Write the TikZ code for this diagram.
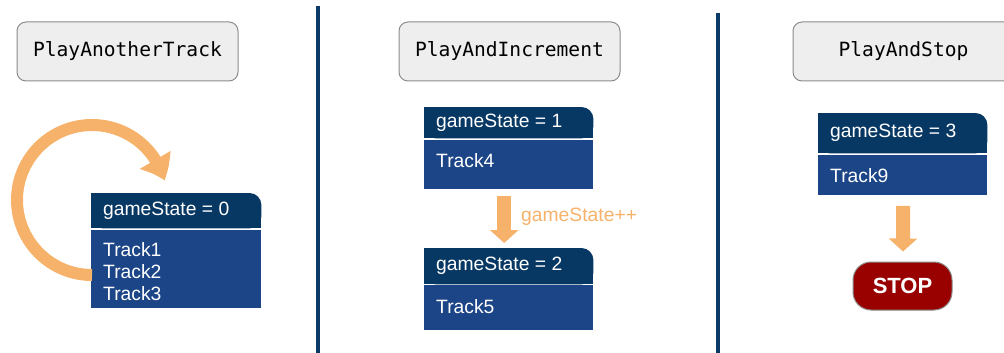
\documentclass[tikz,border=0pt]{standalone}
\usepackage{fontspec}
\setmainfont{Liberation Sans}
\newfontfamily\monof{DejaVu Sans Mono}
\usetikzlibrary{arrows.meta,bending}
\definecolor{hdr}{HTML}{073763}
\definecolor{bodyc}{HTML}{1C4587}
\definecolor{divc}{HTML}{0B3A66}
\definecolor{orng}{HTML}{F6B26B}
\definecolor{titlefill}{HTML}{EEEEEE}
\definecolor{titleline}{HTML}{8C8C8C}
\definecolor{stopred}{HTML}{990000}
\newcommand{\hdrfill}[1]{%
  \fill[hdr, rounded corners=12pt] (#1.south west) rectangle (#1.north east);
  \fill[hdr] (#1.south west) rectangle ([xshift=-14pt]#1.north east);
  \fill[hdr] (#1.south east) rectangle ([xshift=-14pt,yshift=14pt]#1.south east);}
\begin{document}
\begin{tikzpicture}[x=1pt,y=-1pt,
  titlebox/.style={draw=titleline, line width=1pt, fill=titlefill, rounded corners=9pt,
    minimum width=221pt, minimum height=59pt, inner sep=0pt,
    font=\monof\fontsize{19.6}{22}\selectfont},
  hdrbox/.style={inner sep=0pt, anchor=north west},
  bodybox/.style={fill=bodyc, inner sep=0pt, anchor=north west},
  txt/.style={text=white, inner sep=0pt, anchor=west, align=left,
    font=\fontsize{19.3}{22}\selectfont},
  flow/.style={orng, line width=14pt, -{Triangle[length=13pt,width=28pt]}},
  divider/.style={divc, line width=4pt}
]
\useasboundingbox (0,0) rectangle (1004,353);

% dividers
\coordinate (d1t) at (317.5,6);
\coordinate (d1b) at (317.5,353);
\coordinate (d2t) at (717.5,13);
\coordinate (d2b) at (717.5,353);
\draw[divider] (d1t) -- (d1b);
\draw[divider] (d2t) -- (d2b);

% title boxes
\node[titlebox, anchor=north west] (t1) at (16.5,21.5) {PlayAnotherTrack};
\node[titlebox, anchor=north west] (t2) at (398.5,21.5) {PlayAndIncrement};
\node[titlebox, anchor=north west] (t3) at (792.5,21.5) {PlayAndStop};

% panel 1
\node[hdrbox, minimum width=170pt, minimum height=35pt] (h0) at (91,193) {};
\hdrfill{h0}
\node[bodybox, minimum width=170pt, minimum height=78.5pt] (b0) at (91,229.5) {};
\node[txt] (h0t) at (103,211) {gameState = 0};
\node[txt] (b0t) at (103,272) {Track1\\Track2\\Track3};

\coordinate (loopstart) at (92,275);
\draw[orng, line width=12pt, -{Triangle[length=23pt,width=34pt,bend]}]
  (loopstart) arc[start angle=90, end angle=345, radius=75];

% panel 2
\node[hdrbox, minimum width=169pt, minimum height=31pt] (h1) at (424,107) {};
\hdrfill{h1}
\node[bodybox, minimum width=169pt, minimum height=49.5pt] (b1) at (424,139.5) {};
\node[txt] (h1t) at (436,123) {gameState = 1};
\node[txt] (b1t) at (436,161) {Track4};

\node[hdrbox, minimum width=169pt, minimum height=36pt] (h2) at (424,248) {};
\hdrfill{h2}
\node[bodybox, minimum width=169pt, minimum height=45pt] (b2) at (424,284.5) {};
\node[txt] (h2t) at (436,266) {gameState = 2};
\node[txt] (b2t) at (436,307) {Track5};

\draw[flow] ([xshift=-4.5pt,yshift=-7pt]b1.south) -- ([xshift=-4.5pt,yshift=5pt]h2.north);
\node[txt, text=orng] (inc) at (521,217) {gameState++};

% panel 3
\node[hdrbox, minimum width=169pt, minimum height=40pt] (h3) at (818,113) {};
\hdrfill{h3}
\node[bodybox, minimum width=169pt, minimum height=40pt] (b3) at (818,154.5) {};
\node[txt] (h3t) at (830,133) {gameState = 3};
\node[txt] (b3t) at (830,176) {Track9};

\node[draw=titleline, line width=1pt, fill=stopred, rounded corners=18pt,
  minimum width=99pt, minimum height=48pt, inner sep=0pt, text=white,
  font=\bfseries\fontsize{22}{24}\selectfont] (stop) at (902.5,286) {STOP};

\draw[flow] ([xshift=0.5pt,yshift=-11pt]b3.south) -- ([xshift=0.5pt,yshift=10pt]stop.north);
\end{tikzpicture}
\end{document}
